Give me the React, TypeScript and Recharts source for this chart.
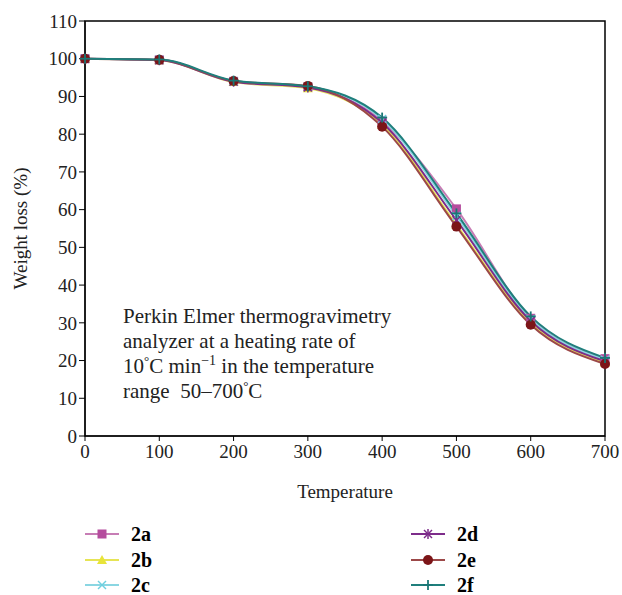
import { LineChart, Line, XAxis, YAxis, Legend, ReferenceArea } from 'recharts';

const temps = [0, 100, 200, 300, 400, 500, 600, 700];
const s2a = [100, 99.7, 94.0, 92.5, 83.5, 60.2, 31.2, 20.5];
const s2b = [100, 99.6, 93.8, 92.2, 82.5, 56.0, 30.0, 19.5];
const s2c = [100, 99.7, 94.0, 92.6, 84.0, 58.3, 31.0, 20.2];
const s2d = [100, 99.6, 93.9, 92.4, 83.0, 57.2, 30.5, 19.8];
const s2e = [100, 99.7, 94.1, 92.8, 82.0, 55.5, 29.5, 19.1];
const s2f = [100, 99.8, 94.2, 92.7, 84.4, 59.0, 31.7, 20.7];

const xTicks = [0, 100, 200, 300, 400, 500, 600, 700];
const yTicks = [0, 10, 20, 30, 40, 50, 60, 70, 80, 90, 100, 110];

const data = temps.map((t, i) => ({
  t,
  a: s2a[i],
  b: s2b[i],
  c: s2c[i],
  d: s2d[i],
  e: s2e[i],
  f: s2f[i],
}));

const FONT = '"Liberation Serif", "DejaVu Serif", serif';

type Kind = 'square' | 'triangle' | 'x' | 'star' | 'circle' | 'plus';

const series: { key: string; name: string; line: string; mark: string; kind: Kind }[] = [
  { key: 'a', name: '2a', line: '#c77db5', mark: '#b54d9e', kind: 'square' },
  { key: 'b', name: '2b', line: '#e6e455', mark: '#e8e43a', kind: 'triangle' },
  { key: 'c', name: '2c', line: '#8ad6e2', mark: '#6fcfdf', kind: 'x' },
  { key: 'd', name: '2d', line: '#7d2c8a', mark: '#7d2c8a', kind: 'star' },
  { key: 'e', name: '2e', line: '#9c4848', mark: '#7c1518', kind: 'circle' },
  { key: 'f', name: '2f', line: '#1f7f7c', mark: '#1a7775', kind: 'plus' },
];

function marker(kind: Kind, cx: number, cy: number, color: string, key?: string | number) {
  switch (kind) {
    case 'square':
      return <rect key={key} x={cx - 4.5} y={cy - 4.5} width={9} height={9} fill={color} />;
    case 'triangle':
      return <polygon key={key} points={`${cx},${cy - 5} ${cx + 5},${cy + 4} ${cx - 5},${cy + 4}`} fill={color} />;
    case 'x':
      return (
        <g key={key} stroke={color} strokeWidth={1.5}>
          <line x1={cx - 4} y1={cy - 4} x2={cx + 4} y2={cy + 4} />
          <line x1={cx - 4} y1={cy + 4} x2={cx + 4} y2={cy - 4} />
        </g>
      );
    case 'star':
      return (
        <g key={key} stroke={color} strokeWidth={1.5}>
          <line x1={cx - 4} y1={cy - 4} x2={cx + 4} y2={cy + 4} />
          <line x1={cx - 4} y1={cy + 4} x2={cx + 4} y2={cy - 4} />
          <line x1={cx} y1={cy - 5} x2={cx} y2={cy + 5} />
        </g>
      );
    case 'circle':
      return <circle key={key} cx={cx} cy={cy} r={5} fill={color} />;
    case 'plus':
    default:
      return (
        <g key={key} stroke={color} strokeWidth={1.8}>
          <line x1={cx - 5} y1={cy} x2={cx + 5} y2={cy} />
          <line x1={cx} y1={cy - 5} x2={cx} y2={cy + 5} />
        </g>
      );
  }
}

function LegendContent() {
  const pos = [
    { left: 85, top: 6 },
    { left: 85, top: 32 },
    { left: 85, top: 57 },
    { left: 411, top: 6 },
    { left: 411, top: 32 },
    { left: 411, top: 57 },
  ];
  return (
    <div style={{ position: 'relative', width: 622, height: 75 }}>
      {series.map((s, i) => (
        <div
          key={s.key}
          style={{ position: 'absolute', left: pos[i].left, top: pos[i].top, height: 16, display: 'flex', alignItems: 'center' }}
        >
          <svg width={34} height={14}>
            <line x1={0} y1={7} x2={34} y2={7} stroke={s.line} strokeWidth={2} />
            {marker(s.kind, 17, 7, s.mark)}
          </svg>
          <span style={{ marginLeft: 12, fontFamily: FONT, fontWeight: 'bold', fontSize: 20, lineHeight: '16px' }}>
            {s.name}
          </span>
        </div>
      ))}
    </div>
  );
}

export default function App() {
  return (
    <div style={{ position: 'absolute', left: 0, top: 0, width: 622, height: 595, background: '#fff' }}>
      <LineChart
        width={622}
        height={595}
        data={data}
        margin={{ top: 21, right: 17, bottom: 0, left: 0 }}
      >
        <ReferenceArea x1={0} x2={700} y1={0} y2={110} fill="none" stroke="#000" strokeWidth={1.5} />
        <XAxis
          dataKey="t"
          type="number"
          domain={[0, 700]}
          ticks={xTicks}
          height={84}
          stroke="#000"
          tickSize={5}
          tickMargin={4}
          tick={{ fill: '#222', fontSize: 19, fontFamily: FONT }}
          label={{ value: 'Temperature', position: 'insideBottom', offset: 22, fill: '#222', fontSize: 19, fontFamily: FONT }}
        />
        <YAxis
          domain={[0, 110]}
          ticks={yTicks}
          width={85}
          stroke="#000"
          tickSize={6}
          tick={{ fill: '#222', fontSize: 19, fontFamily: FONT }}
          label={{ value: 'Weight loss (%)', angle: -90, position: 'insideLeft', offset: 20, fill: '#222', fontSize: 19, fontFamily: FONT, style: { textAnchor: 'middle' } }}
        />
        <Legend verticalAlign="bottom" height={75} content={() => <LegendContent />} wrapperStyle={{ left: 0, width: 622 }} />
        {series.map((s) => (
          <Line
            key={s.key}
            dataKey={s.key}
            name={s.name}
            type="monotone"
            stroke={s.line}
            strokeWidth={2}
            isAnimationActive={false}
            dot={(p: any) => marker(s.kind, p.cx, p.cy, s.mark, `${s.key}-${p.index}`)}
            activeDot={false}
          />
        ))}
      </LineChart>
      <div
        style={{
          position: 'absolute',
          left: 123,
          top: 304,
          fontFamily: FONT,
          fontSize: 21,
          lineHeight: '25px',
          color: '#222',
        }}
      >
        Perkin Elmer thermogravimetry
        <br />
        analyzer at a heating rate of
        <br />
        10<sup style={{ fontSize: 13, lineHeight: 0 }}>°</sup>C min<sup style={{ fontSize: 14, lineHeight: 0 }}>−1</sup> in the temperature
        <br />
        range&nbsp; 50–700<sup style={{ fontSize: 13, lineHeight: 0 }}>°</sup>C
      </div>
    </div>
  );
}
